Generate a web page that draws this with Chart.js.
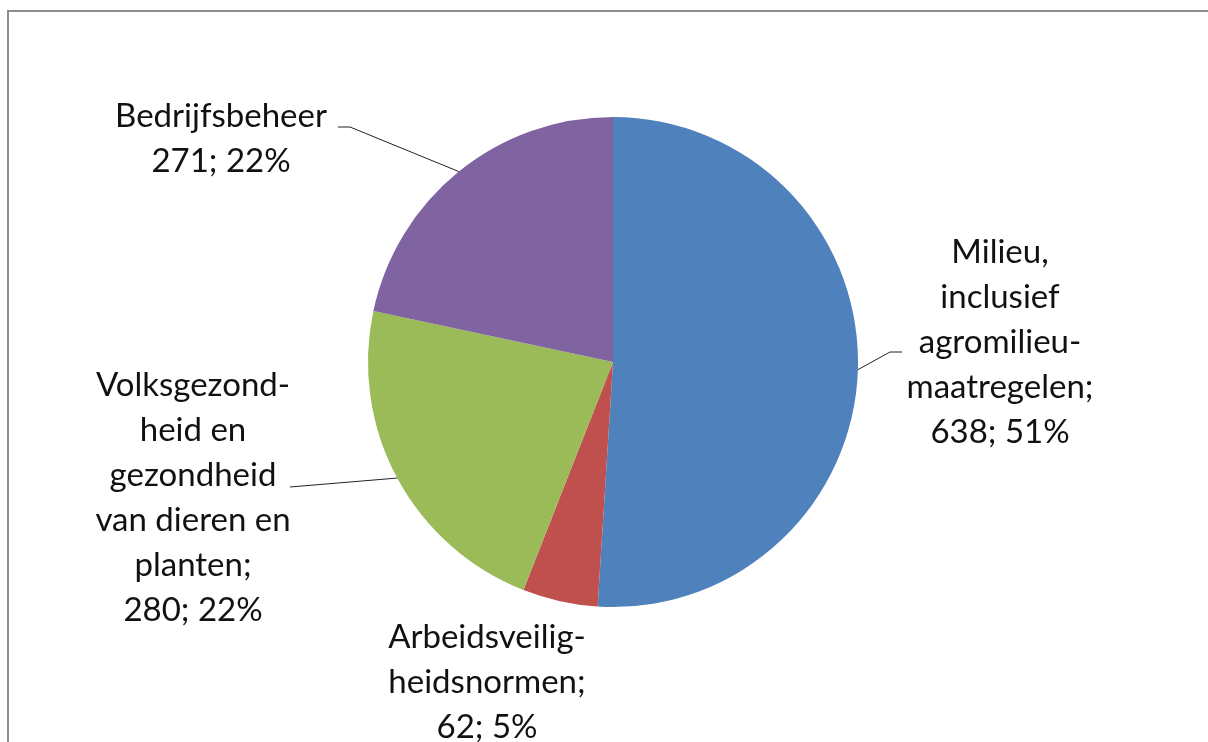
<!DOCTYPE html>
<html>
<head>
<meta charset="utf-8">
<script src="https://cdn.jsdelivr.net/npm/chart.js@4"></script>
<style>
  html, body { margin: 0; padding: 0; background: #fff; overflow: hidden; }
  #wrap { position: relative; width: 1208px; height: 742px; }
  #frame { position: absolute; left: 7px; top: 10px; width: 1300px; height: 800px; border-top: 2px solid #8c8c8c; border-left: 2px solid #8c8c8c; }
  canvas { position: absolute; left: 0; top: 0; }
</style>
</head>
<body>
<div id="wrap">
  <div id="frame"></div>
  <canvas id="pieChart" width="1208" height="742"></canvas>
</div>
<script>
// data
const categories = [
    ['Milieu,', 'inclusief', 'agromilieu-', 'maatregelen;'],
    ['Arbeidsveilig-', 'heidsnormen;'],
    ['Volksgezond-', 'heid en', 'gezondheid', 'van dieren en', 'planten;'],
    ['Bedrijfsbeheer']
];
const values = [638, 62, 280, 271];
const colors = ['#4f81bd', '#c0504d', '#9bbb59', '#8064a2'];

// label placement (text centre x, first line y, leader points)
const labelStyle = [
    { x: 1000, y: 252, leader: [[890, 352], [902, 352]] },
    { x: 487, y: 637, leader: null },
    { x: 193, y: 385, leader: [[290, 487]] },
    { x: 221, y: 116, leader: [[350, 127], [338, 127]] }
];
const lineHeight = 45;

const total = values.reduce((a, b) => a + b, 0);

const labelPlugin = {
    id: 'pieLabels',
    afterDraw: (chart) => {
        const ctx = chart.ctx;
        const arcs = chart.getDatasetMeta(0).data;
        ctx.save();
        arcs.forEach((arc, i) => {
            const st = labelStyle[i];
            // leader line from the slice edge
            if (st.leader) {
                const mid = (arc.startAngle + arc.endAngle) / 2;
                ctx.beginPath();
                ctx.moveTo(arc.x + Math.cos(mid) * arc.outerRadius, arc.y + Math.sin(mid) * arc.outerRadius);
                st.leader.forEach(p => ctx.lineTo(p[0], p[1]));
                ctx.strokeStyle = '#222';
                ctx.lineWidth = 1;
                ctx.stroke();
            }
            const pct = Math.round(values[i] / total * 100);
            const lines = categories[i].concat([values[i] + '; ' + pct + '%']);
            ctx.fillStyle = '#111';
            ctx.font = '33px Lato, "Open Sans", sans-serif';
            ctx.textAlign = 'center';
            ctx.textBaseline = 'middle';
            lines.forEach((t, k) => ctx.fillText(t, st.x, st.y + k * lineHeight));
        });
        ctx.restore();
    }
};

new Chart(document.getElementById('pieChart'), {
    type: 'pie',
    data: {
        labels: categories.map(c => c.join(' ')),
        datasets: [{
            data: values,
            backgroundColor: colors,
            borderWidth: 0
        }]
    },
    options: {
        responsive: false,
        animation: false,
        layout: { padding: { left: 368, right: 350, top: 117, bottom: 135 } },
        plugins: { legend: { display: false }, tooltip: { enabled: false } }
    },
    plugins: [labelPlugin]
});
</script>
</body>
</html>
